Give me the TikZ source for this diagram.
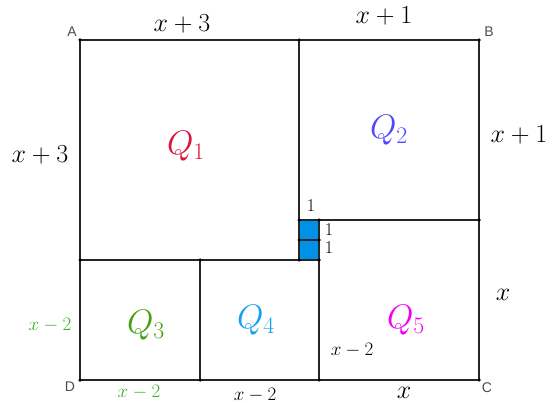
\RequirePackage{fix-cm}
\documentclass[tikz,border=0pt]{standalone}
\usepackage{fontspec}
\newfontfamily\lblfont{Liberation Sans}
\begin{document}
\begin{tikzpicture}[x=1pt,y=-1pt,
  edge/.style={line width=2pt,draw=black!85},
  vlabel/.style={font=\lblfont\fontsize{14}{14}\selectfont,text=black!70,inner sep=0pt},
  biglbl/.style={font=\fontsize{26}{26}\selectfont,inner sep=0pt},
  midlbl/.style={font=\fontsize{19}{19}\selectfont,inner sep=0pt},
  onelbl/.style={font=\fontsize{18}{18}\selectfont,inner sep=0pt},
  qlbl/.style={font=\fontsize{34}{34}\selectfont,inner sep=0pt},
  dot/.style={circle,fill=black,inner sep=0pt,minimum size=3.5pt}]
\definecolor{qone}{RGB}{220,20,60}
\definecolor{qtwo}{RGB}{80,70,255}
\definecolor{qthree}{RGB}{70,160,20}
\definecolor{qfour}{RGB}{20,160,240}
\definecolor{qfive}{RGB}{240,0,240}
\definecolor{glbl}{RGB}{60,175,40}
\definecolor{sq}{RGB}{0,145,230}
\useasboundingbox (0,0) rectangle (553,403);
\coordinate (A) at (80,40);
\coordinate (B) at (479,40);
\coordinate (C) at (479,380);
\coordinate (D) at (80,380);
\coordinate (T1) at (299,40);
\coordinate (S1) at (299,220);
\coordinate (S2) at (319,220);
\coordinate (S3) at (319,260);
\coordinate (S4) at (299,260);
\coordinate (M1) at (299,240);
\coordinate (M2) at (319,240);
\coordinate (R1) at (479,220);
\coordinate (L1) at (80,260);
\coordinate (Q4t) at (200,260);
\coordinate (Q4b) at (200,380);
\coordinate (Q5b) at (319,380);
\fill[sq] (S1) rectangle (S3);
\draw[edge] (A) -- (B) -- (C) -- (D) -- cycle;
\draw[edge] (T1) -- (S4);
\draw[edge] (S1) -- (R1);
\draw[edge] (L1) -- (S3);
\draw[edge] (S2) -- (Q5b);
\draw[edge] (Q4t) -- (Q4b);
\draw[edge] (M1) -- (M2);
\foreach \p in {A,B,C,D,T1,S1,S2,S4,M1,M2,R1,L1,Q4t,Q4b,Q5b,S3}
  \node[dot] at (\p) {};
\node[vlabel] (lA) at (72,32) {A};
\node[vlabel] (lB) at (489,32) {B};
\node[vlabel] (lC) at (487,388) {C};
\node[vlabel] (lD) at (70,387) {D};
\node[biglbl] (t1) at (182,24) {$x+3$};
\node[biglbl] (t2) at (384,16) {$x+1$};
\node[biglbl] (t3) at (40,155) {$x+3$};
\node[biglbl] (t4) at (519,135) {$x+1$};
\node[biglbl] (t5) at (503,295) {$x$};
\node[biglbl] (t6) at (404,393) {$x$};
\node[midlbl] (t7) at (255,395) {$x-2$};
\node[midlbl] (t8) at (352,350) {$x-2$};
\node[midlbl,text=glbl] (t9) at (50,325) {$x-2$};
\node[midlbl,text=glbl] (t10) at (139,392) {$x-2$};
\node[onelbl] (o1) at (311,206) {$1$};
\node[onelbl] (o2) at (329,230) {$1$};
\node[onelbl] (o3) at (329,248) {$1$};
\node[qlbl,text=qone] (q1) at (186,146) {$Q_1$};
\node[qlbl,text=qtwo] (q2) at (389,130) {$Q_2$};
\node[qlbl,text=qthree] (q3) at (146,325) {$Q_3$};
\node[qlbl,text=qfour] (q4) at (256,320) {$Q_4$};
\node[qlbl,text=qfive] (q5) at (406,320) {$Q_5$};
\end{tikzpicture}
\end{document}
